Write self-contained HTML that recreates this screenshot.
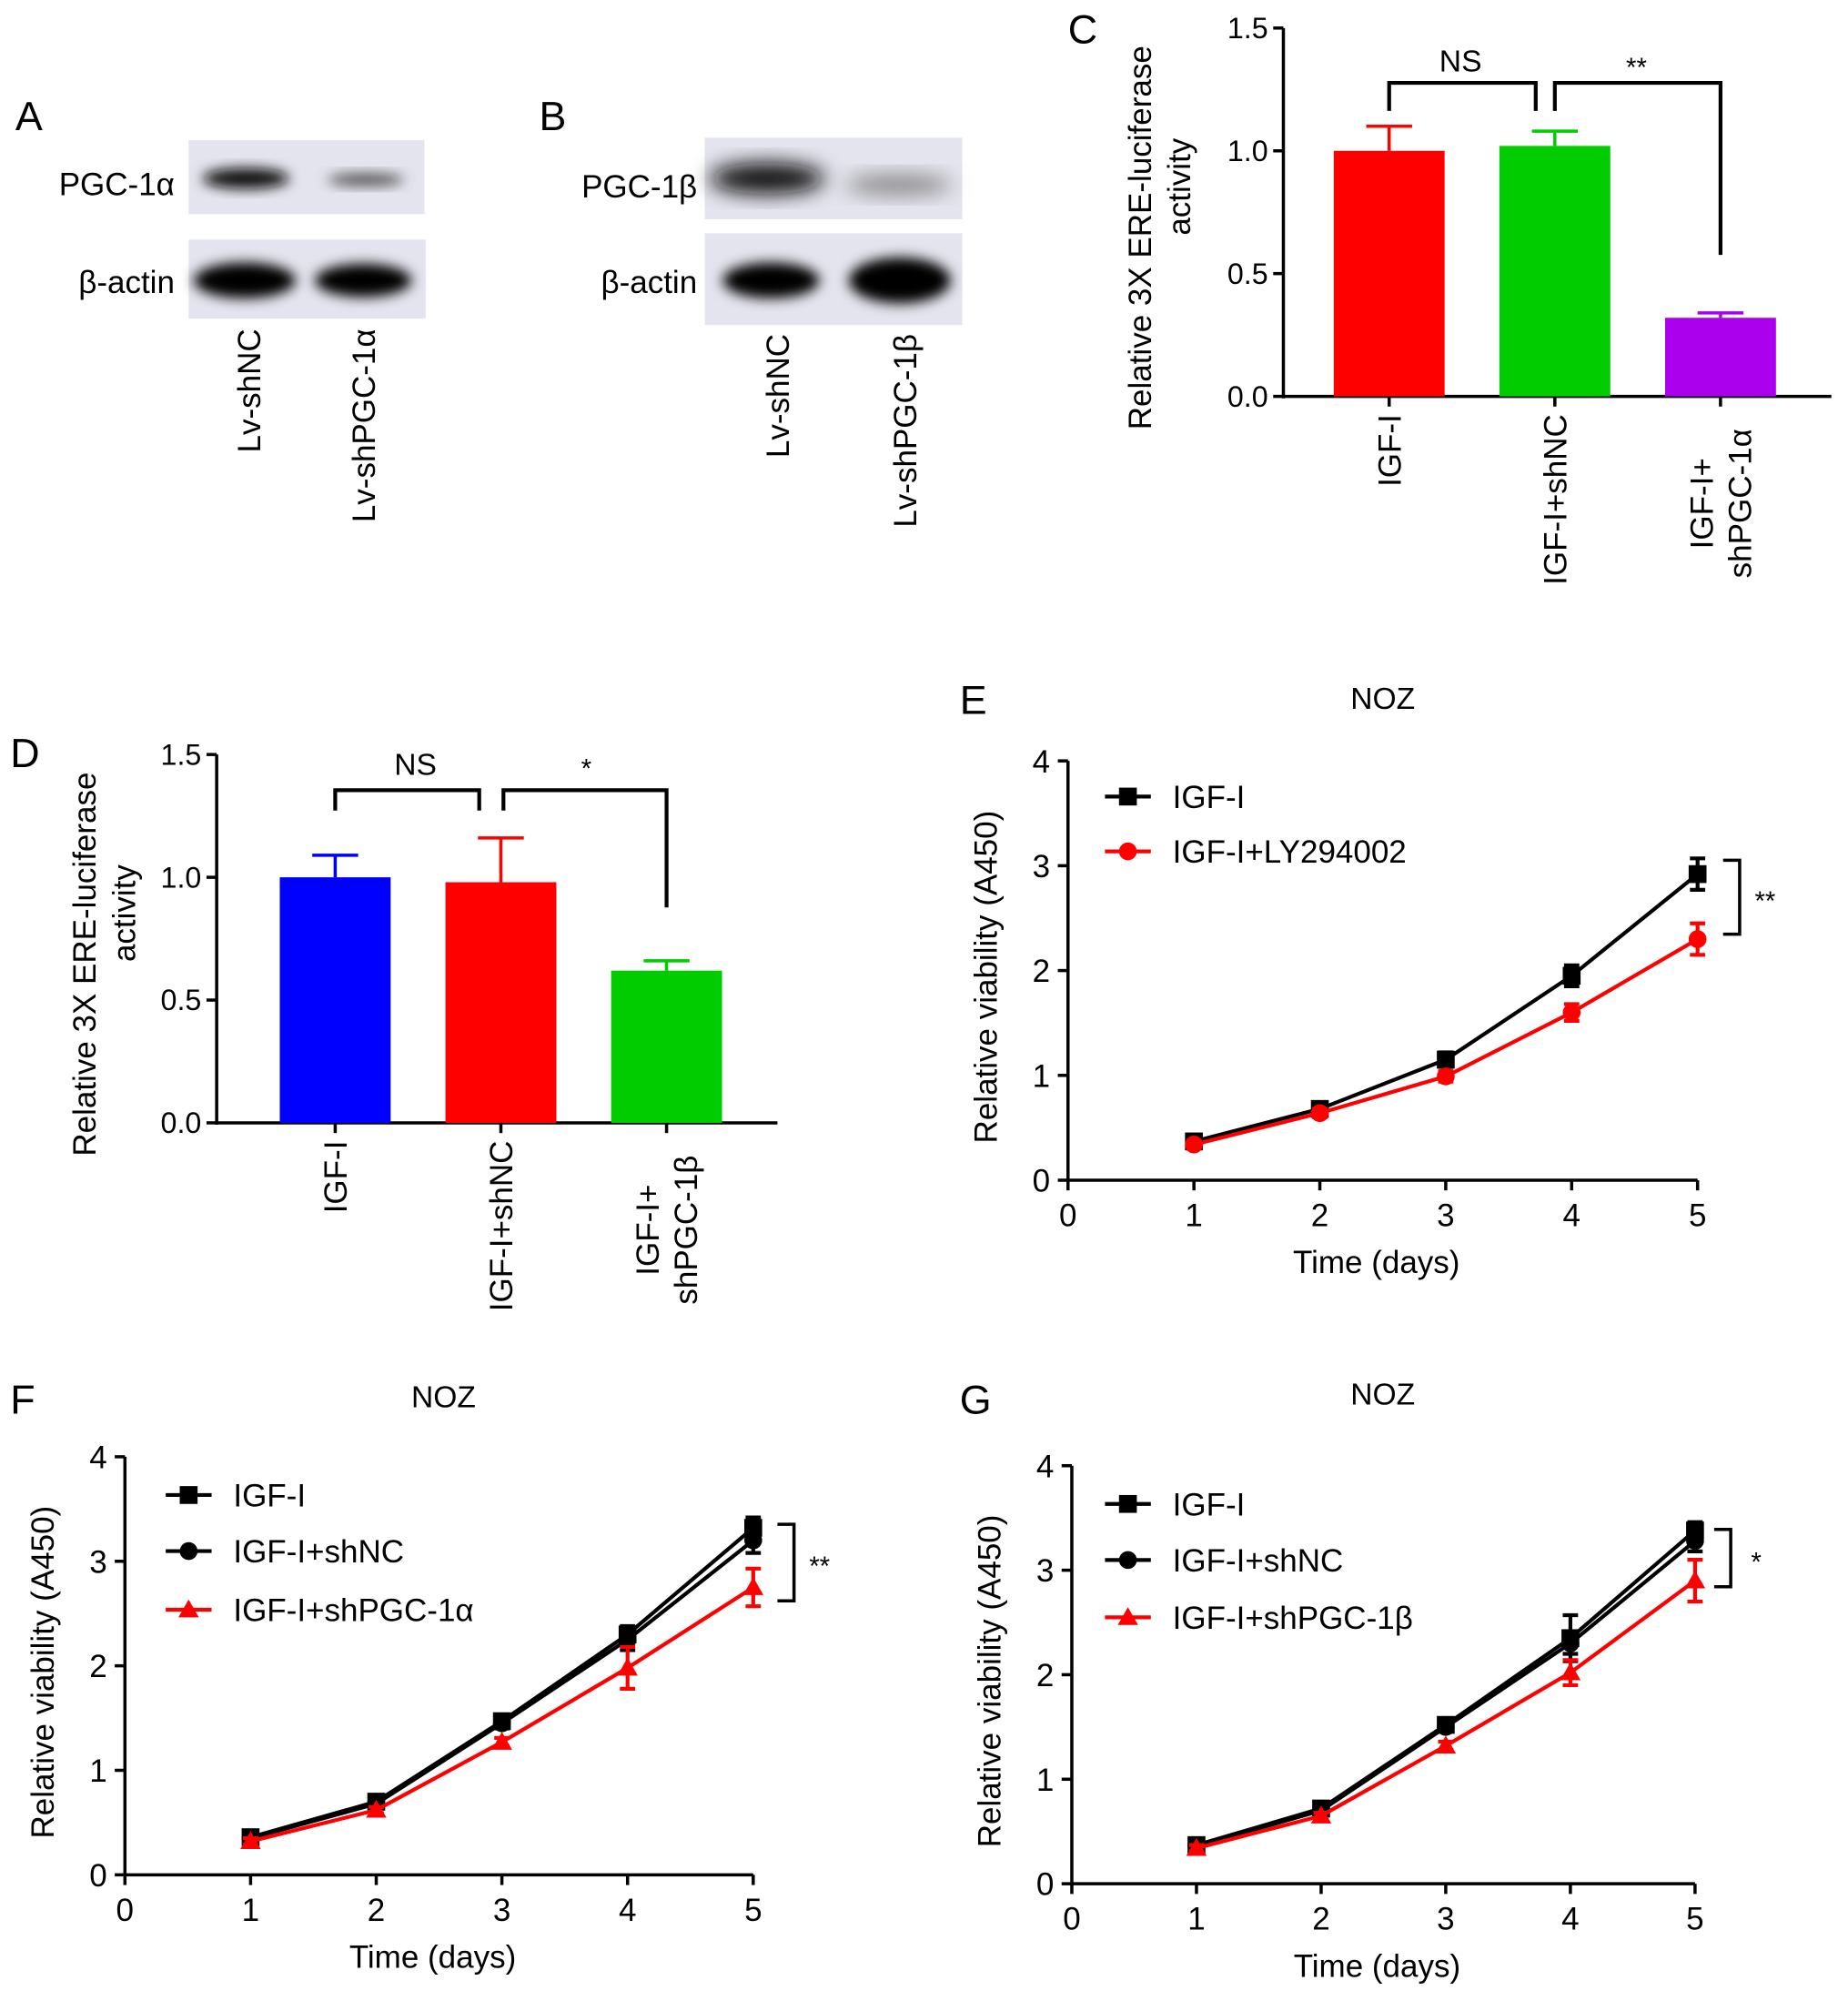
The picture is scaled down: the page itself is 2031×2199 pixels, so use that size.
<!DOCTYPE html>
<html><head><meta charset="utf-8"><style>
html,body{margin:0;padding:0;background:#fff;}
svg{display:block;font-family:"Liberation Sans",Arial,sans-serif;}
</style></head><body>
<svg id="fig" width="2031" height="2199" viewBox="0 0 1450 1570" xmlns="http://www.w3.org/2000/svg">
<defs>
<filter id="blur" x="-20%" y="-50%" width="140%" height="200%"><feGaussianBlur stdDeviation="5"/></filter>
<filter id="blur2" x="-20%" y="-50%" width="140%" height="200%"><feGaussianBlur stdDeviation="8"/></filter>
</defs>
<g font-size="32" fill="#000">
<text x="12" y="102">A</text><text x="423" y="102">B</text><text x="838" y="34">C</text>
<text x="8" y="602">D</text><text x="753" y="560">E</text><text x="8" y="1109">F</text><text x="753" y="1109">G</text>
</g>
<g>
<rect x="148" y="110" width="185" height="58" fill="#e4e4ee"/>
<ellipse cx="193" cy="140" rx="34" ry="8" fill="#111" filter="url(#blur)"/>
<ellipse cx="287" cy="141" rx="30" ry="5" fill="#555" filter="url(#blur)"/>
<rect x="148" y="188" width="186" height="62" fill="#e4e4ee"/>
<ellipse cx="192" cy="220" rx="40" ry="14" fill="#000" filter="url(#blur)"/>
<ellipse cx="285" cy="220" rx="38" ry="13" fill="#000" filter="url(#blur)"/>
<text x="137" y="153" font-size="25" text-anchor="end">PGC-1α</text>
<text x="137" y="230" font-size="25" text-anchor="end">β-actin</text>
<text transform="translate(204,258) rotate(-90)" font-size="25" text-anchor="end">Lv-shNC</text>
<text transform="translate(294,258) rotate(-90)" font-size="25" text-anchor="end">Lv-shPGC-1α</text>
</g>
<g>
<rect x="553" y="108" width="202" height="64" fill="#e4e4ee"/>
<ellipse cx="602" cy="140" rx="45" ry="12" fill="#111" filter="url(#blur2)"/>
<ellipse cx="705" cy="145" rx="42" ry="8" fill="#888" filter="url(#blur2)"/>
<rect x="553" y="183" width="202" height="72" fill="#e4e4ee"/>
<ellipse cx="605" cy="220" rx="38" ry="14" fill="#000" filter="url(#blur)"/>
<ellipse cx="706" cy="220" rx="40" ry="18" fill="#000" filter="url(#blur)"/>
<text x="547" y="155" font-size="25" text-anchor="end">PGC-1β</text>
<text x="547" y="230" font-size="25" text-anchor="end">β-actin</text>
<text transform="translate(619,262) rotate(-90)" font-size="25" text-anchor="end">Lv-shNC</text>
<text transform="translate(719,262) rotate(-90)" font-size="25" text-anchor="end">Lv-shPGC-1β</text>
</g>
<g id="charts"></g>
</svg>
<script>
const NS="http://www.w3.org/2000/svg";
const root=document.getElementById('charts');
function el(tag,attrs,parent,text){const e=document.createElementNS(NS,tag);for(const k in attrs)e.setAttribute(k,attrs[k]);if(text!==undefined)e.textContent=text;(parent||root).appendChild(e);return e;}

// Panel C data
const cCats=[["IGF-I"],["IGF-I+shNC"],["IGF-I+","shPGC-1α"]];
const cVals=[1.0,1.02,0.32];
const cErr=[0.1,0.06,0.02];
const cColors=["#ff0000","#00cc00","#aa00ee"];
const cTicks=["0.0","0.5","1.0","1.5"];
// Panel D data
const dCats=[["IGF-I"],["IGF-I+shNC"],["IGF-I+","shPGC-1β"]];
const dVals=[1.0,0.98,0.62];
const dErr=[0.09,0.18,0.04];
const dColors=["#0000ff","#ff0000","#00cc00"];
const dTicks=["0.0","0.5","1.0","1.5"];
// Panel E data
const days=[1,2,3,4,5];
const eIGF=[0.37,0.68,1.15,1.95,2.92];
const eIGFerr=[0.04,0.04,0.07,0.1,0.15];
const eLY=[0.34,0.64,0.99,1.6,2.3];
const eLYerr=[0.04,0.04,0.05,0.08,0.15];
// Panel F data
const fIGF=[0.36,0.7,1.47,2.3,3.32];
const fIGFerr=[0.03,0.04,0.05,0.08,0.1];
const fNC=[0.35,0.68,1.45,2.25,3.2];
const fNCerr=[0.03,0.04,0.05,0.1,0.12];
const fSh=[0.32,0.62,1.27,1.98,2.75];
const fSherr=[0.03,0.03,0.04,0.2,0.18];
// Panel G data
const gIGF=[0.37,0.72,1.52,2.35,3.38];
const gIGFerr=[0.03,0.04,0.05,0.22,0.08];
const gNC=[0.36,0.7,1.5,2.3,3.28];
const gNCerr=[0.03,0.04,0.04,0.1,0.1];
const gSh=[0.34,0.65,1.32,2.02,2.9];
const gSherr=[0.03,0.03,0.04,0.12,0.2];
const xTicks=["0","1","2","3","4","5"];
const yTicks=["0","1","2","3","4"];

function barChart(name,g,ax,cats,vals,err,colors,ticks,brackets,ylab){
  const y=v=>ax.y0-(v/1.5)*(ax.y0-ax.y1);
  el('line',{x1:ax.x,y1:ax.y1,x2:ax.x,y2:ax.y0+1.5,stroke:'#000','stroke-width':2.5},g);
  el('line',{x1:ax.x,y1:ax.y0,x2:ax.xEnd,y2:ax.y0,stroke:'#000','stroke-width':2.5},g);
  ticks.forEach((t,i)=>{const v=i*0.5;const yy=y(v);
    el('line',{x1:ax.x-8,y1:yy,x2:ax.x,y2:yy,stroke:'#000','stroke-width':2.5},g);
    const tx=el('text',{x:ax.x-12,y:yy+8,'font-size':23,'text-anchor':'end'},g,t);
    
    
  });
  vals.forEach((v,i)=>{
    const cx=ax.first+i*ax.step;
    const b=el('rect',{x:cx-ax.w/2,y:y(v),width:ax.w,height:ax.y0-y(v),fill:colors[i]},g);
    
    
    const ey=y(v+err[i]);
    el('line',{x1:cx,y1:y(v),x2:cx,y2:ey,stroke:colors[i],'stroke-width':2.5},g);
    el('line',{x1:cx-18,y1:ey,x2:cx+18,y2:ey,stroke:colors[i],'stroke-width':2.5},g);
    el('line',{x1:cx,y1:ax.y0,x2:cx,y2:ax.y0+8,stroke:'#000','stroke-width':2.5},g);
    const lines=cats[i];
    lines.forEach((ln,j)=>{
      const off=(j-(lines.length-1)/2)*30;
      const t=el('text',{transform:`translate(${cx+9+off},${ax.y0+14}) rotate(-90)`,'font-size':25,'text-anchor':lines.length>1?'middle':'end'},g,ln);
      if(lines.length>1)t.setAttribute('transform',`translate(${cx+9+off},${ax.y0+14+70}) rotate(-90)`);
      
      
    });
  });
  brackets.forEach(bk=>{
    el('polyline',{points:`${bk.x1},${bk.b1} ${bk.x1},${bk.top} ${bk.x2},${bk.top} ${bk.x2},${bk.b2}`,fill:'none',stroke:'#000','stroke-width':3},g);
    const t=el('text',{x:bk.lx,y:bk.ly,'font-size':bk.fs,'text-anchor':'middle'},g,bk.label);
    
    
  });
  const cyl=(ax.y0+ax.y1)/2+20;
  const t1=el('text',{transform:`translate(${ylab.x},${cyl}) rotate(-90)`,'font-size':25,'text-anchor':'middle'},g,'Relative 3X ERE-luciferase');
  
  
  const t2=el('text',{transform:`translate(${ylab.x+31},${cyl-40}) rotate(-90)`,'font-size':25,'text-anchor':'middle'},g,'activity');
  
  
}

function marker(g,type,x,y,color){
  if(type==='sq')return el('rect',{x:x-7,y:y-7,width:14,height:14,fill:color},g);
  if(type==='ci')return el('circle',{cx:x,cy:y,r:7,fill:color},g);
  return el('polygon',{points:`${x},${y-8} ${x+8},${y+6} ${x-8},${y+6}`,fill:color},g);
}

function lineChart(g,ax,series,legendY,bracket,title){
  const X=d=>ax.x0+d*(ax.x5-ax.x0)/5;
  const Y=v=>ax.y0-v*(ax.y0-ax.y4)/4;
  el('line',{x1:ax.x0,y1:ax.y4,x2:ax.x0,y2:ax.y0+1.5,stroke:'#000','stroke-width':2.5},g);
  el('line',{x1:ax.x0,y1:ax.y0,x2:ax.x5,y2:ax.y0,stroke:'#000','stroke-width':2.5},g);
  yTicks.forEach((t,i)=>{const yy=Y(i);
    el('line',{x1:ax.x0-8,y1:yy,x2:ax.x0,y2:yy,stroke:'#000','stroke-width':2.5},g);
    const tx=el('text',{x:ax.x0-14,y:yy+9,'font-size':25,'text-anchor':'end'},g,t);
    
    
  });
  xTicks.forEach((t,i)=>{const xx=X(i);
    el('line',{x1:xx,y1:ax.y0,x2:xx,y2:ax.y0+8,stroke:'#000','stroke-width':2.5},g);
    const tx=el('text',{x:xx,y:ax.y0+36,'font-size':25,'text-anchor':'middle'},g,t);
    
    
  });
  series.forEach((s,si)=>{
    const pl=el('polyline',{points:days.map((d,i)=>X(d)+','+Y(s.v[i])).join(' '),fill:'none',stroke:s.c,'stroke-width':3},g);
    
    
    days.forEach((d,i)=>{
      const x=X(d),y1=Y(s.v[i]+s.e[i]),y2=Y(s.v[i]-s.e[i]);
      el('line',{x1:x,y1:y1,x2:x,y2:y2,stroke:s.c,'stroke-width':3},g);
      el('line',{x1:x-6,y1:y1,x2:x+6,y2:y1,stroke:s.c,'stroke-width':3},g);
      el('line',{x1:x-6,y1:y2,x2:x+6,y2:y2,stroke:s.c,'stroke-width':3},g);
      const m=marker(g,s.m,x,Y(s.v[i]),s.c);
      
      
    });
    const ly=legendY[si];
    el('line',{x1:ax.lx-18,y1:ly,x2:ax.lx+18,y2:ly,stroke:s.c,'stroke-width':3},g);
    marker(g,s.m,ax.lx,ly,s.c);
    const lt=el('text',{x:ax.lx+35,y:ly+9,'font-size':25},g,s.name);
    
    
  });
  el('polyline',{points:`${bracket.x1},${bracket.y1} ${bracket.x2},${bracket.y1} ${bracket.x2},${bracket.y2} ${bracket.x1},${bracket.y2}`,fill:'none',stroke:'#000','stroke-width':2.5},g);
  const st=el('text',{x:bracket.x2+20,y:(bracket.y1+bracket.y2)/2+10,'font-size':21,'text-anchor':'middle'},g,bracket.label);
  
  
  const tt=el('text',{x:title.x,y:title.y,'font-size':24,'text-anchor':'middle'},g,'NOZ');
  
  
  const xt=el('text',{x:(ax.x0+ax.x5)/2-5,y:ax.y0+73,'font-size':25,'text-anchor':'middle'},g,'Time (days)');
  
  
  const yt=el('text',{transform:`translate(${ax.x0-56},${(ax.y0+ax.y4)/2+5}) rotate(-90)`,'font-size':25,'text-anchor':'middle'},g,'Relative viability (A450)');
  
  
}

const gC=el('g',{});


barChart('c',gC,{x:1007,y0:311,y1:22,xEnd:1437,first:1090,step:130,w:87},cCats,cVals,cErr,cColors,cTicks,
 [{x1:1090,x2:1205,top:65,b1:87,b2:87,label:'NS',lx:1146,ly:56,fs:24},{x1:1220,x2:1350,top:65,b1:87,b2:200,label:'**',lx:1284,ly:60,fs:21}],{x:903});

const gD=el('g',{});


barChart('d',gD,{x:170,y0:881,y1:592,xEnd:610,first:263,step:130,w:87},dCats,dVals,dErr,dColors,dTicks,
 [{x1:263,x2:376,top:620,b1:636,b2:636,label:'NS',lx:326,ly:608,fs:24},{x1:395,x2:523,top:620,b1:636,b2:712,label:'*',lx:460,ly:610,fs:21}],{x:75});

const gE=el('g',{});


lineChart(gE,{x0:838,x5:1332,y0:926,y4:597,lx:885},
 [{name:'IGF-I',slug:'igf-i',v:eIGF,e:eIGFerr,c:'#000',m:'sq'},{name:'IGF-I+LY294002',slug:'igf-i-ly294002',v:eLY,e:eLYerr,c:'#ff0000',m:'ci'}],
 [625,668],{x1:1352,x2:1365,y1:675,y2:733,label:'**'},{x:1085,y:556});

const gF=el('g',{});


lineChart(gF,{x0:98,x5:591,y0:1471,y4:1143,lx:148},
 [{name:'IGF-I',slug:'igf-i',v:fIGF,e:fIGFerr,c:'#000',m:'sq'},{name:'IGF-I+shNC',slug:'igf-i-shnc',v:fNC,e:fNCerr,c:'#000',m:'ci'},{name:'IGF-I+shPGC-1α',slug:'igf-i-shpgc1a',v:fSh,e:fSherr,c:'#ff0000',m:'tr'}],
 [1173,1217,1263],{x1:610,x2:623,y1:1196,y2:1256,label:'**'},{x:348,y:1104});

const gG=el('g',{});


lineChart(gG,{x0:841,x5:1330,y0:1478,y4:1150,lx:885},
 [{name:'IGF-I',slug:'igf-i',v:gIGF,e:gIGFerr,c:'#000',m:'sq'},{name:'IGF-I+shNC',slug:'igf-i-shnc',v:gNC,e:gNCerr,c:'#000',m:'ci'},{name:'IGF-I+shPGC-1β',slug:'igf-i-shpgc1b',v:gSh,e:gSherr,c:'#ff0000',m:'tr'}],
 [1180,1224,1269],{x1:1345,x2:1358,y1:1200,y2:1245,label:'*'},{x:1085,y:1102});
</script>
</body></html>
